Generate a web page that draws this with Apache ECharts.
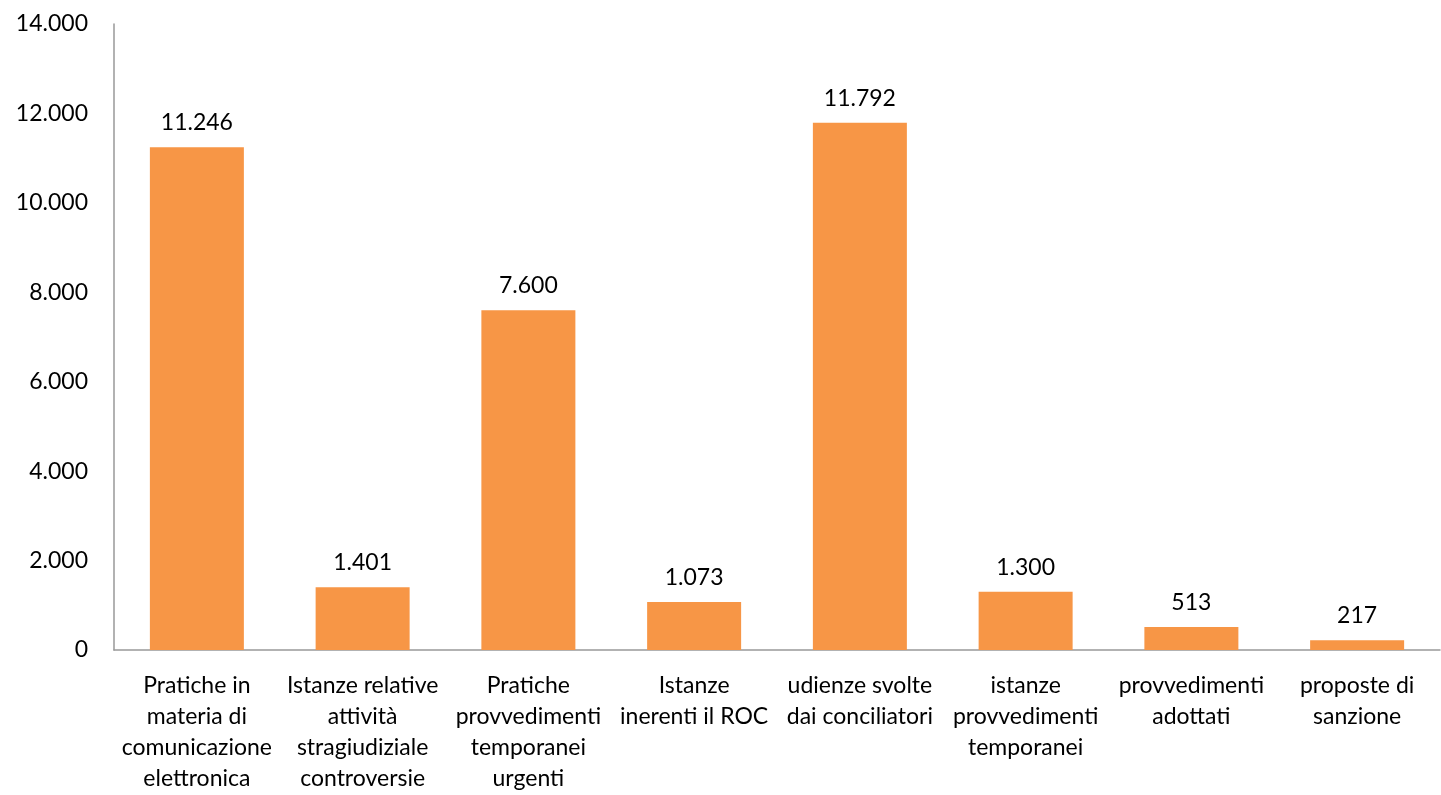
<!DOCTYPE html>
<html>
<head>
<meta charset="utf-8">
<script src="https://cdn.jsdelivr.net/npm/echarts@6/dist/echarts.min.js"></script>
<style>
  html, body { margin: 0; padding: 0; background: #fff; }
  #chart { width: 1441px; height: 795px; }
</style>
</head>
<body>
<div id="chart"></div>
<script>
const categories = [
  'Pratiche in\nmateria di\ncomunicazione\nelettronica',
  'Istanze relative\nattività\nstragiudiziale\ncontroversie',
  'Pratiche\nprovvedimenti\ntemporanei\nurgenti',
  'Istanze\ninerenti il ROC',
  'udienze svolte\ndai conciliatori',
  'istanze\nprovvedimenti\ntemporanei',
  'provvedimenti\nadottati',
  'proposte di\nsanzione'
];
const values = [11246, 1401, 7600, 1073, 11792, 1300, 513, 217];
const yTicks = { min: 0, max: 14000, interval: 2000 };

// Italian thousands separator
function fmt(n) {
  return String(Math.round(n)).replace(/\B(?=(\d{3})+(?!\d))/g, '.');
}

const FONT = 'Lato, "Open Sans", sans-serif';
const FS = 23;
const chart = echarts.init(document.getElementById('chart'));
chart.setOption({
  animation: false,
  grid: { left: 114, right: 1, top: 24, bottom: 145, containLabel: false },
  xAxis: {
    type: 'category',
    data: categories,
    axisLine: { lineStyle: { color: '#999', width: 1.5 } },
    axisTick: { show: false },
    axisLabel: {
      interval: 0,
      margin: 20,
      color: '#000',
      fontFamily: FONT,
      fontSize: FS,
      lineHeight: 31,
      align: 'center'
    }
  },
  yAxis: {
    type: 'value',
    min: yTicks.min,
    max: yTicks.max,
    interval: yTicks.interval,
    axisLine: { show: true, lineStyle: { color: '#999', width: 1.5 } },
    axisTick: { show: false },
    splitLine: { show: false },
    axisLabel: {
      margin: 26,
      color: '#000',
      fontFamily: FONT,
      fontSize: FS,
      formatter: fmt
    }
  },
  series: [{
    type: 'bar',
    data: values,
    barWidth: 94,
    itemStyle: { color: '#F79646' },
    label: {
      show: true,
      position: 'top',
      distance: 13,
      color: '#000',
      fontFamily: FONT,
      fontSize: FS,
      formatter: p => fmt(p.value)
    }
  }]
});
</script>
</body>
</html>
